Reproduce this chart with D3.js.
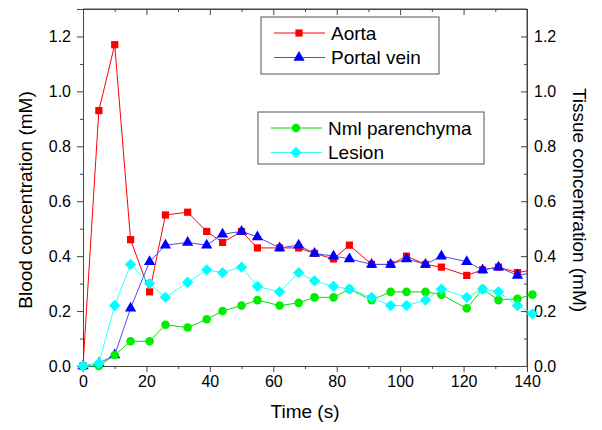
<!DOCTYPE html>
<html>
<head>
<meta charset="utf-8">
<script src="https://d3js.org/d3.v7.min.js"></script>
<style>
  body { margin: 0; background: #fff; }
  text { font-family: "Liberation Sans", Arial, sans-serif; fill: #000; }
</style>
</head>
<body>
<svg class="chart"></svg>
<script>
"use strict";

var width = 602;
var height = 430;

// acquisition times (s)
var times = [0, 5, 10, 15, 21, 26, 33, 39, 44, 50, 55, 62, 68, 73, 79, 84, 91, 97, 102, 108, 113, 121, 126, 131, 137, 141.7];

// blood concentration (mM)
var aorta = [0, 0.93, 1.17, 0.46, 0.27, 0.55, 0.56, 0.49, 0.45, 0.49, 0.43, 0.43, 0.43, 0.41, 0.39, 0.44, 0.37, 0.37, 0.40, 0.37, 0.36, 0.33, 0.35, 0.36, 0.34, 0.35];
var portalVein = [0, 0.01, 0.04, 0.21, 0.38, 0.44, 0.45, 0.44, 0.48, 0.49, 0.47, 0.43, 0.44, 0.41, 0.40, 0.39, 0.37, 0.37, 0.39, 0.37, 0.40, 0.38, 0.35, 0.36, 0.33, 0.34];

// tissue concentration (mM)
var nmlParenchyma = [0, 0, 0.04, 0.09, 0.09, 0.15, 0.14, 0.17, 0.20, 0.22, 0.24, 0.22, 0.23, 0.25, 0.25, 0.28, 0.24, 0.27, 0.27, 0.27, 0.26, 0.21, 0.28, 0.24, 0.245, 0.26];
var lesion = [0, 0.01, 0.22, 0.37, 0.30, 0.25, 0.305, 0.35, 0.34, 0.36, 0.29, 0.27, 0.34, 0.31, 0.29, 0.28, 0.25, 0.22, 0.22, 0.24, 0.28, 0.25, 0.28, 0.27, 0.22, 0.19];

var xTicks = [0, 20, 40, 60, 80, 100, 120, 140];
var yTicks = [0, 0.2, 0.4, 0.6, 0.8, 1.0, 1.2];

var margin = { top: 9, right: 75, bottom: 64, left: 83 };
var w = width - margin.left - margin.right;
var h = height - margin.top - margin.bottom;

var svg = d3.select(".chart").attr("width", width).attr("height", height);
var g = svg.append("g").attr("transform", "translate(" + margin.left + "," + margin.top + ")");

var x = d3.scaleLinear().domain([0, 140]).range([0, w]);
var yBlood = d3.scaleLinear().domain([0, 1.3]).range([h, 0]);
var yTissue = d3.scaleLinear().domain([0, 1.3]).range([h, 0]);

var axisColor = "#444";
var fmt = d3.format(".1f");
var xMinor = d3.range(10, 140, 20);
var yMinor = d3.range(0.1, 1.3, 0.2);

// axes
var bottomAxis = g.append("g").attr("transform", "translate(0," + h + ")")
  .call(d3.axisBottom(x).tickValues(xTicks).tickSize(6).tickPadding(4));
bottomAxis.append("g").call(d3.axisBottom(x).tickValues(xMinor).tickSize(3).tickFormat(""));

var topAxis = g.append("g")
  .call(d3.axisBottom(x).tickValues(xTicks).tickSize(6).tickFormat(""));
topAxis.append("g").call(d3.axisBottom(x).tickValues(xMinor).tickSize(3).tickFormat(""));

var leftAxis = g.append("g")
  .call(d3.axisLeft(yBlood).tickValues(yTicks).tickFormat(fmt).tickSize(6).tickPadding(6));
leftAxis.append("g").call(d3.axisLeft(yBlood).tickValues(yMinor).tickSize(3).tickFormat(""));

var rightAxis = g.append("g").attr("transform", "translate(" + w + ",0)")
  .call(d3.axisLeft(yTissue).tickValues(yTicks).tickSize(6).tickFormat(""));
rightAxis.append("g").call(d3.axisLeft(yTissue).tickValues(yMinor).tickSize(3).tickFormat(""));
rightAxis.selectAll(".rlab").data(yTicks).enter().append("text").attr("class", "rlab")
  .attr("x", 7).attr("y", function (d) { return yTissue(d); }).attr("dy", "0.35em")
  .attr("text-anchor", "start").style("font-size", "16px").text(fmt);

g.selectAll(".domain").attr("stroke", axisColor);
g.selectAll(".tick line").attr("stroke", axisColor);
g.selectAll(".tick text").style("font-size", "16px").attr("fill", "#000");
topAxis.select(".domain").attr("d", "M0,0H" + w);
rightAxis.select(".domain").attr("d", "M0," + h + "V0");

// axis titles
svg.append("text").attr("text-anchor", "middle")
  .attr("x", margin.left + w / 2).attr("y", 418)
  .style("font-size", "19px").text("Time (s)");
svg.append("text").attr("text-anchor", "middle")
  .attr("transform", "translate(32,200) rotate(-90)")
  .style("font-size", "19px").text("Blood concentration (mM)");
svg.append("text").attr("text-anchor", "middle")
  .attr("transform", "translate(573,200) rotate(90)")
  .style("font-size", "19px").text("Tissue concentration (mM)");

// blood series are clipped at the right frame
svg.append("defs").append("clipPath").attr("id", "clip")
  .append("rect").attr("x", -20).attr("y", -20).attr("width", w + 20).attr("height", h + 40);

var series = [
  { name: "Aorta", values: aorta, y: yBlood, line: "#ff0000", fill: "#ff0000", shape: d3.symbolSquare, size: 52, rot: 0, clip: true },
  { name: "Portal vein", values: portalVein, y: yBlood, line: "#4a4aff", fill: "#0000ff", shape: d3.symbolTriangle, size: 55, rot: 0, clip: true },
  { name: "Nml parenchyma", values: nmlParenchyma, y: yTissue, line: "#00e000", fill: "#00ee00", shape: d3.symbolCircle, size: 58, rot: 0, clip: false },
  { name: "Lesion", values: lesion, y: yTissue, line: "#33ffff", fill: "#00ffff", shape: d3.symbolSquare, size: 64, rot: 45, clip: false }
];

series.forEach(function (s) {
  var pts = times.map(function (t, i) { return [t, s.values[i]]; });
  var sg = g.append("g");
  if (s.clip) sg.attr("clip-path", "url(#clip)");
  sg.append("path").datum(pts).attr("fill", "none").attr("stroke", s.line).attr("stroke-width", 1)
    .attr("d", d3.line().x(function (d) { return x(d[0]); }).y(function (d) { return s.y(d[1]); }));
  sg.selectAll("path.pt").data(pts).enter().append("path").attr("class", "pt")
    .attr("transform", function (d) { return "translate(" + x(d[0]) + "," + s.y(d[1]) + ") rotate(" + s.rot + ")"; })
    .attr("d", d3.symbol().type(s.shape).size(s.size)).attr("fill", s.fill);
});

// legends
var legends = [
  { x: 261, y: 17, w: 178, h: 57, items: series.slice(0, 2) },
  { x: 258, y: 112, w: 226, h: 52, items: series.slice(2, 4) }
];

legends.forEach(function (L) {
  var lg = svg.append("g").attr("transform", "translate(" + L.x + "," + L.y + ")");
  lg.append("rect").attr("width", L.w).attr("height", L.h).attr("fill", "#fff")
    .attr("stroke", "#555").attr("stroke-width", 1);
  L.items.forEach(function (s, i) {
    var yy = 16 + i * 24.5;
    lg.append("line").attr("x1", 13).attr("x2", 64).attr("y1", yy).attr("y2", yy)
      .attr("stroke", s.line).attr("stroke-width", 1);
    lg.append("path").attr("transform", "translate(38," + yy + ") rotate(" + s.rot + ")")
      .attr("d", d3.symbol().type(s.shape).size(s.size)).attr("fill", s.fill);
    lg.append("text").attr("x", 70).attr("y", yy).attr("dy", "0.35em")
      .style("font-size", "19px").text(s.name);
  });
});
</script>
</body>
</html>
